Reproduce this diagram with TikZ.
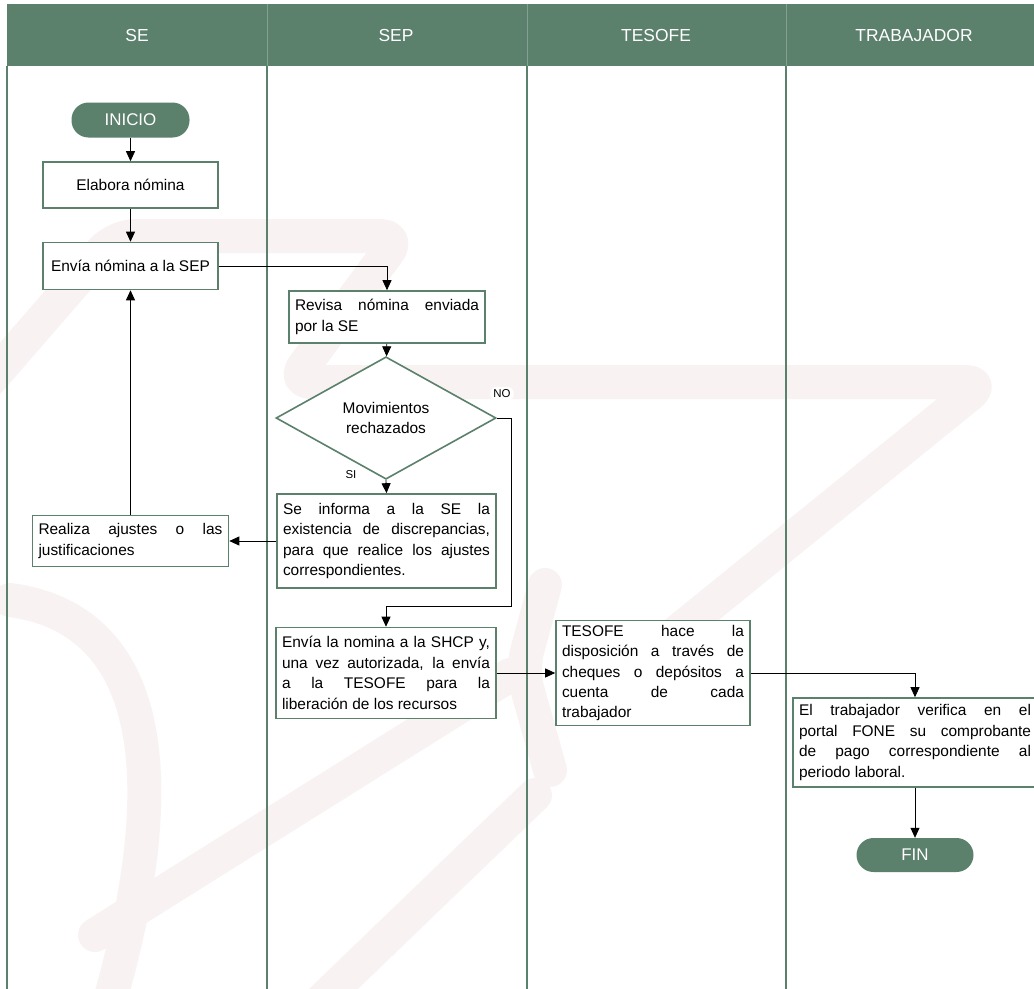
\documentclass[tikz,border=0pt]{standalone}
\usepackage{fontspec}
\setmainfont{Liberation Sans}
\usepackage{tikz}
\usetikzlibrary{arrows.meta,shapes.geometric,positioning}

\definecolor{sepgreen}{RGB}{91,128,108}
\definecolor{marca}{RGB}{248,243,242}

\begin{document}
\begin{tikzpicture}[>={Triangle[length=10bp,width=9bp]},
	lane/.style={draw=sepgreen,line width=1.6bp},
	title/.style={text=white,font=\fontsize{17.5}{20}\selectfont},
	terminal/.style={fill=sepgreen,text=white,rounded corners=17bp,minimum width=118bp,minimum height=35bp,font=\fontsize{17}{20}\selectfont},
	process/.style={draw=sepgreen,line width=1.6bp,fill=white,inner xsep=6bp,inner ysep=4bp,font=\fontsize{15.5}{20.5}\selectfont},
	textbox/.style={process,align=justify,text width=#1},
	decision/.style={diamond,draw=sepgreen,line width=1.6bp,fill=white,align=center,inner sep=1bp,minimum width=220bp,minimum height=93bp,font=\fontsize{15.5}{20.5}\selectfont},
	flow/.style={->,line width=0.8bp},
	tag/.style={fill=white,rounded corners=6bp,inner sep=3bp,font=\fontsize{11.5}{13}\selectfont}]
	\useasboundingbox (0bp,0bp) rectangle (1034bp,-989bp);
	\clip (0bp,0bp) rectangle (1034bp,-989bp);

	% marca de agua
	\begin{scope}[draw=marca,line width=34bp,line join=round,line cap=round,rounded corners=20bp]
		\draw (-10bp,-380bp) -- (115bp,-236bp) -- (400bp,-236bp) -- (292bp,-382bp) -- (985bp,-382bp) -- (640bp,-662bp);
		\draw (10bp,-600bp) .. controls (160bp,-620bp) and (170bp,-790bp) .. (110bp,-1000bp);
		\draw (95bp,-935bp) -- (510bp,-675bp);
		\draw (545bp,-585bp) -- (522bp,-670bp) -- (550bp,-770bp);
		\draw (322bp,-1000bp) -- (535bp,-795bp);
	\end{scope}

	% encabezado y carriles
	\fill[sepgreen] (7bp,-4bp) rectangle (1034bp,-66bp);
	\foreach \x in {267bp,527bp,786bp}
		\draw[sepgreen!75!white,line width=0.6bp] (\x,-4bp) -- (\x,-66bp);
	\foreach \x in {7bp,267bp,527bp,786bp}
		\draw[lane] (\x,-66bp) -- (\x,-989bp);

	\node (tse) at (137bp,-35bp) [title] {SE};
	\node (tsep) at (396bp,-35bp) [title] {SEP};
	\node (ttesofe) at (656bp,-35bp) [title] {TESOFE};
	\node (ttrab) at (914bp,-35bp) [title] {TRABAJADOR};

	% nodos
	\node (inicio) at (130.5bp,-120bp) [terminal] {INICIO};
	\node (elabora) at (130.5bp,-185bp) [process,minimum width=175bp,minimum height=46bp] {Elabora nómina};
	\node (envia) at (130.5bp,-266bp) [process,minimum width=175bp,minimum height=47bp] {Envía nómina a la SEP};
	\node (revisa) at (387bp,-317bp) [textbox=184bp,minimum height=52bp]
		{Revisa nómina enviada\linebreak por la SE};
	\node (movs) at (386bp,-418bp) [decision] {Movimientos\\rechazados};
	\node (informa) at (386.5bp,-541bp) [textbox=207bp,minimum height=94bp]
		{Se informa a la SE la\linebreak existencia de discrepancias,\linebreak para que realice los ajustes\linebreak correspondientes.};
	\node (realiza) at (130.5bp,-541bp) [textbox=184bp,minimum height=51bp]
		{Realiza ajustes o las\linebreak justificaciones};
	\node (shcp) at (386bp,-673bp) [textbox=208bp,minimum height=91bp]
		{Envía la nomina a la SHCP y,\linebreak una vez autorizada, la envía\linebreak a la TESOFE para la\linebreak liberación de los recursos};
	\node (tesofe) at (653bp,-673bp) [textbox=182bp,minimum height=105bp]
		{TESOFE hace la\linebreak disposición a través de\linebreak cheques o depósitos a\linebreak cuenta de cada\linebreak trabajador};
	\node (verifica) at (915bp,-742.5bp) [textbox=232bp,minimum height=89bp]
		{El trabajador verifica en el\linebreak portal FONE su comprobante\linebreak de pago correspondiente al\linebreak periodo laboral.};
	\node (fin) at (915bp,-855bp) [terminal,minimum width=117bp,minimum height=34bp] {FIN};
	\coordinate (noturn) at (511bp,-606bp);

	% conectores
	\draw [flow] (inicio) -- (elabora);
	\draw [flow] (elabora) -- (envia);
	\draw [flow] (envia.east) -| (revisa.north);
	\draw [flow] (revisa) -- (movs);
	\draw [flow] (movs.south) -- (informa.north);
	\node (si) at (351bp,-475bp) [tag] {SI};
	\draw [flow] (movs.east) -| (noturn) -| (shcp.north);
	\node (no) at (502bp,-394bp) [tag] {NO};
	\draw [flow] (informa.west) -- (realiza.east);
	\draw [flow] (realiza.north) -- (envia.south);
	\draw [flow] (shcp.east) -- (tesofe.west);
	\draw [flow] (tesofe.east) -| (verifica.north);
	\draw [flow] (verifica.south) -- (fin.north);
\end{tikzpicture}
\end{document}
